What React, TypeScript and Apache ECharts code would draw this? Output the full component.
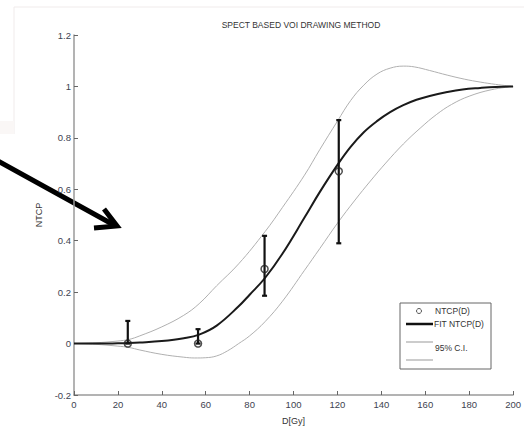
import React, { useEffect, useRef } from "react";
import * as echarts from "echarts";

const titleText = "SPECT BASED VOI DRAWING METHOD";
const xTicks = { min: 0, max: 200, interval: 20 };
const yTicks = { min: -0.2, max: 1.2, interval: 0.2 };

// observed NTCP points with error bars
const obsDose = [24.5, 56.5, 86.8, 120.6];
const obsNtcp = [0, 0, 0.29, 0.67];
const obsLow = [0, 0, 0.186, 0.39];
const obsHigh = [0.088, 0.056, 0.419, 0.869];

// fitted NTCP curve
const fitDose = [0, 10, 20, 25, 30, 40, 50, 57, 65, 75, 80, 87, 95, 105, 112, 120, 126, 132, 138, 144, 150, 156, 162, 170, 177, 185, 192, 200];
const fitNtcp = [0, 0, 0.001, 0.002, 0.004, 0.01, 0.021, 0.035, 0.07, 0.145, 0.19, 0.255, 0.35, 0.49, 0.59, 0.695, 0.765, 0.822, 0.865, 0.9, 0.927, 0.948, 0.963, 0.978, 0.988, 0.994, 0.998, 1.0];

// 95% confidence interval curves
const ciUpperDose = [0, 10, 20, 25, 30, 40, 50, 57, 65, 75, 87, 95, 105, 112, 120, 126, 132, 138, 144, 150, 155, 162, 170, 178, 185, 192, 200];
const ciUpper = [0, 0.003, 0.01, 0.016, 0.03, 0.065, 0.11, 0.155, 0.225, 0.31, 0.435, 0.53, 0.655, 0.755, 0.865, 0.945, 1.005, 1.048, 1.071, 1.079, 1.076, 1.062, 1.044, 1.028, 1.017, 1.008, 1.0];
const ciLowerDose = [0, 10, 20, 25, 30, 40, 50, 55, 60, 65, 70, 75, 80, 87, 95, 105, 112, 120, 128, 135, 142, 150, 158, 165, 172, 180, 190, 200];
const ciLower = [0, -0.003, -0.01, -0.015, -0.025, -0.042, -0.053, -0.056, -0.055, -0.048, -0.028, 0.0, 0.03, 0.085, 0.165, 0.285, 0.37, 0.468, 0.558, 0.632, 0.702, 0.776, 0.84, 0.89, 0.93, 0.962, 0.987, 1.0];

const zip = (xs: number[], ys: number[]) => xs.map((x, i) => [x, ys[i]]);

const labelColor = "#3d4350";
const axisGray = "#9a9a9a";
const font = "'Liberation Sans', Arial, Helvetica, sans-serif";

export default function App() {
  const ref = useRef<HTMLDivElement>(null);
  useEffect(() => {
    if (!ref.current) return;
    const chart = echarts.init(ref.current, null, { renderer: "svg" });
    const errData = obsDose.map((d, i) => [d, obsLow[i], obsHigh[i]]);
    chart.setOption({
      animation: false,
      backgroundColor: "#ffffff",
      textStyle: { fontFamily: font },
      title: {
        text: titleText,
        left: 296,
        top: 15,
        textAlign: "center",
        textStyle: { fontSize: 8.5, fontWeight: "normal", color: "#333", fontFamily: font },
      },
      grid: { left: 74, right: 6.3, top: 35, bottom: 29, containLabel: false },
      xAxis: {
        type: "value",
        min: xTicks.min,
        max: xTicks.max,
        interval: xTicks.interval,
        name: "D[Gy]",
        nameLocation: "middle",
        nameGap: 21,
        nameTextStyle: { fontSize: 9, color: "#333", fontFamily: font },
        axisLine: { onZero: false, lineStyle: { color: axisGray, width: 1.5 } },
        axisTick: { inside: true, length: 4, lineStyle: { color: "#666", width: 1 } },
        axisLabel: { fontSize: 9.5, color: labelColor, margin: 4, fontFamily: font },
        splitLine: { show: false },
      },
      yAxis: {
        type: "value",
        min: yTicks.min,
        max: yTicks.max,
        interval: yTicks.interval,
        name: "NTCP",
        nameLocation: "middle",
        nameGap: 20,
        nameTextStyle: { fontSize: 9, color: "#333", fontFamily: font },
        axisLine: { show: true, onZero: false, lineStyle: { color: axisGray, width: 1.5 } },
        axisTick: { show: true, inside: true, length: 4, lineStyle: { color: "#666", width: 1 } },
        axisLabel: {
          fontSize: 9.5,
          color: labelColor,
          margin: 3,
          fontFamily: font,
          formatter: (v: number) => String(Math.round(v * 10) / 10),
        },
        splitLine: { show: false },
      },
      series: [
        {
          type: "line",
          name: "CI upper",
          data: zip(ciUpperDose, ciUpper),
          smooth: 0.4,
          showSymbol: false,
          lineStyle: { color: "#b0b0b0", width: 1 },
          z: 2,
        },
        {
          type: "line",
          name: "CI lower",
          data: zip(ciLowerDose, ciLower),
          smooth: 0.4,
          showSymbol: false,
          lineStyle: { color: "#b0b0b0", width: 1 },
          z: 2,
        },
        {
          type: "line",
          name: "FIT NTCP(D)",
          data: zip(fitDose, fitNtcp),
          smooth: 0.4,
          showSymbol: false,
          lineStyle: { color: "#1a1a1a", width: 2 },
          z: 3,
        },
        {
          type: "custom",
          name: "errorbars",
          data: errData,
          z: 4,
          renderItem: (params: any, api: any) => {
            const x = api.value(0);
            const lo = api.coord([x, api.value(1)]);
            const hi = api.coord([x, api.value(2)]);
            const cap = 2.5;
            const style = { stroke: "#111", lineWidth: 2.2 };
            return {
              type: "group",
              children: [
                { type: "line", shape: { x1: lo[0], y1: lo[1], x2: hi[0], y2: hi[1] }, style },
                { type: "line", shape: { x1: hi[0] - cap, y1: hi[1], x2: hi[0] + cap, y2: hi[1] }, style },
                { type: "line", shape: { x1: lo[0] - cap, y1: lo[1], x2: lo[0] + cap, y2: lo[1] }, style },
              ],
            };
          },
        },
        {
          type: "scatter",
          name: "NTCP(D)",
          data: zip(obsDose, obsNtcp),
          symbol: "circle",
          symbolSize: 7,
          itemStyle: { color: "transparent", borderColor: "#222", borderWidth: 1.5 },
          z: 5,
        },
      ],
      graphic: [
        // faint slide frame at top-left
        { type: "line", shape: { x1: 14, y1: 7, x2: 524, y2: 7 }, style: { stroke: "#f0ebeb", lineWidth: 1 }, z: 1 },
        { type: "line", shape: { x1: 14, y1: 7, x2: 14, y2: 134 }, style: { stroke: "#f0ebeb", lineWidth: 1 }, z: 1 },
        { type: "rect", shape: { x: 0, y: 121, width: 14, height: 13 }, style: { fill: "#faf7f6" }, z: 1 },
        // legend
        {
          type: "group",
          z: 50,
          children: [
            { type: "rect", shape: { x: 400, y: 303, width: 91, height: 66 }, style: { fill: "#fff", stroke: "#666", lineWidth: 1 } },
            { type: "circle", shape: { cx: 419, cy: 311, r: 2.5 }, style: { fill: "none", stroke: "#555", lineWidth: 1 } },
            { type: "text", x: 435, y: 311, style: { text: "NTCP(D)", fontSize: 8.5, fill: "#333", fontFamily: font, verticalAlign: "middle" } },
            { type: "line", shape: { x1: 406, y1: 324, x2: 433, y2: 324 }, style: { stroke: "#111", lineWidth: 2.5 } },
            { type: "text", x: 434, y: 324, style: { text: "FIT NTCP(D)", fontSize: 8.5, fill: "#333", fontFamily: font, verticalAlign: "middle" } },
            { type: "line", shape: { x1: 406, y1: 342, x2: 433, y2: 342 }, style: { stroke: "#999", lineWidth: 1 } },
            { type: "text", x: 435, y: 348, style: { text: "95% C.I.", fontSize: 8.5, fill: "#333", fontFamily: font, verticalAlign: "middle" } },
            { type: "line", shape: { x1: 406, y1: 360, x2: 433, y2: 360 }, style: { stroke: "#999", lineWidth: 1 } },
          ],
        },
        // annotation arrow
        {
          type: "group",
          z: 100,
          children: [
            { type: "line", shape: { x1: -2, y1: 161, x2: 114, y2: 225 }, style: { stroke: "#000", lineWidth: 5 } },
            {
              type: "polyline",
              shape: { points: [[104, 209], [117, 226], [94, 228]] },
              style: { stroke: "#000", lineWidth: 5, fill: "none", lineJoin: "miter" },
            },
          ],
        },
      ],
    });
    return () => chart.dispose();
  }, []);
  return <div ref={ref} style={{ position: "fixed", left: 0, top: 0, width: 524, height: 430 }} />;
}
